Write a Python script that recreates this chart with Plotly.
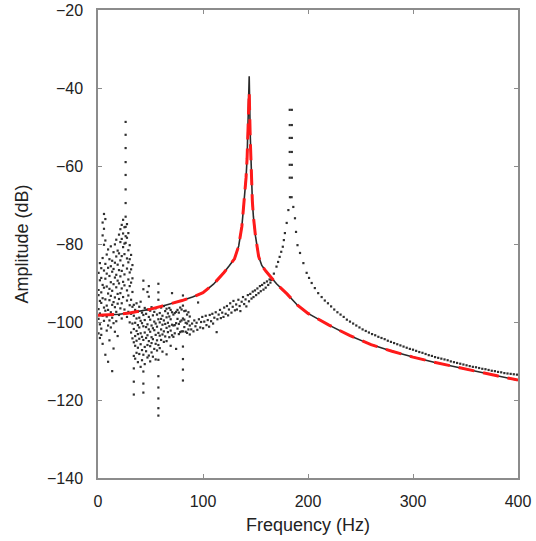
import plotly.graph_objects as go

# ---------------- data ----------------
# smooth model curve (black) and fitted curve (red dashed)
curve_freq = [0, 10, 20, 30, 40, 50, 60, 70, 80, 90, 100, 110, 116, 120, 125, 130, 134, 137, 138,
              140, 141, 142, 143, 144, 145, 146, 147, 148, 150, 153, 156, 160, 165, 170, 180, 190,
              200, 220, 240, 260, 280, 300, 320, 340, 360, 380, 400]
curve_db = [-98.3, -98.2, -98.0, -97.7, -97.2, -96.7, -96.0, -95.3, -94.5, -93.6, -92.5, -90.3, -88.6,
            -87.3, -85.6, -83.8, -80.5, -75.5, -72.5, -67, -63, -58, -48, -37, -52, -63, -69, -73,
            -78, -83.2, -85.5, -87, -88.6, -90.2, -92.8, -95.7, -97.8, -100.8, -103.5, -105.8,
            -107.5, -109, -110.3, -111.5, -112.6, -113.8, -114.9]
fit_db = [-98.3, -98.2, -98.0, -97.7, -97.2, -96.7, -96.0, -95.3, -94.5, -93.6, -92.5, -90.3, -88.6,
          -87.3, -85.6, -83.8, -80.5, -75.5, -72.5, -67, -63, -58, -49, -41, -53, -63, -69, -73,
          -78, -83.2, -85.5, -87, -88.6, -90.2, -92.8, -95.7, -97.8, -100.8, -103.5, -105.8,
          -107.5, -109, -110.3, -111.5, -112.6, -113.8, -114.9]

# measured spectrum: low-frequency cloud (frequency bins, several readings each)
cloud_freq = [0.5, 1.8, 3.1, 4.4, 5.7, 7.0, 8.3, 9.6, 10.9, 12.2, 13.5, 14.8, 16.1, 17.4, 18.7,
              20.0, 21.3, 22.6, 23.9, 25.2, 26.3, 27.6, 28.9, 30.2, 31.5, 32.8, 34.1, 35.4, 36.7,
              38.0, 39.3, 40.6, 41.9, 43.2, 44.5, 45.8, 47.1, 48.4, 49.7, 51.0, 52.3, 53.6, 54.9,
              56.2, 57.5, 58.8, 60.1, 61.4, 62.7, 64.0, 65.3, 66.6, 67.9, 69.2, 70.5, 71.8, 73.1,
              74.4, 75.7, 77.0, 78.3, 79.6, 80.9, 82.2, 83.5, 84.8, 86.1, 87.4]
cloud_db = [
    [-87.4, -91.8, -93.1, -96.7, -99.2, -102.9],
    [-84.9, -89.3, -94.6, -97.8, -100.6, -104.1],
    [-86.2, -88.7, -92.4, -95.1, -101.7, -103.3],
    [-74.5, -77.8, -83.6, -90.5, -93.9, -98.4, -105.6],
    [-72.3, -76.1, -80.2, -86.8, -91.2, -96.3, -99.7],
    [-73.6, -79.1, -85.1, -88.9, -94.2, -97.1, -108.4],
    [-82.7, -87.6, -90.9, -95.8, -98.6, -102.2],
    [-81.4, -86.1, -92.7, -96.9, -100.9, -110.2],
    [-83.9, -88.2, -91.5, -94.4, -99.6, -104.7],
    [-80.6, -85.7, -89.8, -93.3, -97.5, -101.4],
    [-84.3, -87.1, -92.0, -95.6, -98.9, -112.6],
    [-82.1, -86.4, -90.3, -94.9, -100.3, -106.8],
    [-80.1, -84.8, -88.6, -93.7, -96.2, -102.5],
    [-78.9, -83.2, -87.9, -91.1, -97.4, -99.8],
    [-81.7, -85.3, -89.4, -92.8, -95.3, -103.6],
    [-77.6, -82.4, -86.7, -90.1, -94.1, -98.2],
    [-76.2, -79.5, -84.2, -88.3, -92.6, -96.5],
    [-75.1, -78.7, -83.1, -86.9, -91.4, -95.2, -99.1],
    [-73.8, -77.3, -80.8, -85.5, -89.7, -93.6],
    [-75.7, -79.9, -82.6, -87.8, -90.6, -96.8],
    [-48.7, -52.0, -55.4, -59.0, -62.3, -66.0, -69.5, -73.0, -75.6, -78.0, -79.7],
    [-74.9, -78.4, -83.7, -86.3, -91.9, -94.5, -98.7],
    [-77.2, -81.6, -84.7, -89.1, -93.2, -97.4],
    [-80.3, -83.9, -87.3, -90.8, -95.7, -100.1],
    [-82.8, -86.5, -89.9, -94.3, -97.9, -102.7],
    [-85.4, -88.8, -92.3, -96.1, -100.4, -104.2],
    [-95.6, -98.4, -101.8, -105.2, -108.7, -111.9, -115.3, -118.6],
    [-96.9, -100.2, -103.6, -106.1, -109.4],
    [-95.2, -99.1, -102.3, -104.8, -107.9],
    [-97.3, -100.8, -103.1, -106.6, -110.3],
    [-96.1, -98.9, -101.4, -104.3, -108.2],
    [-94.8, -99.7, -102.9, -105.7, -111.5],
    [-97.6, -100.3, -103.8, -107.2, -109.8],
    [-89.4, -91.6, -98.2, -101.1, -104.6, -108.4, -112.7, -115.8, -118.1],
    [-96.4, -99.5, -102.7, -106.4, -110.8],
    [-97.9, -101.3, -104.1, -107.5],
    [-92.3, -96.8, -100.6, -103.4, -105.9, -109.1],
    [-90.8, -93.5, -98.7, -101.9, -104.9, -108.6],
    [-97.1, -99.4, -102.5, -106.2, -110.1],
    [-96.2, -100.9, -103.9, -105.4, -107.8],
    [-98.3, -101.6, -104.4, -108.9],
    [-97.4, -99.9, -102.1, -106.9],
    [-96.5, -100.4, -103.3, -105.6, -109.6],
    [-98.1, -101.2, -104.7, -107.3],
    [-90.2, -92.4, -94.3, -99.3, -102.8, -105.9, -109.7, -113.9, -116.8, -119.6, -122.1, -124.0],
    [-97.7, -100.1, -103.5, -106.7],
    [-96.3, -99.2, -101.9, -104.6],
    [-98.4, -100.7, -103.2, -107.6],
    [-95.9, -99.6, -102.4, -105.1],
    [-97.2, -100.5, -103.7],
    [-96.6, -98.8, -101.5, -104.9, -108.3],
    [-97.8, -100.2, -102.6],
    [-96.4, -98.6, -101.1, -103.9],
    [-96.9, -99.3, -102.2, -106.1],
    [-92.6, -97.5, -100.7, -103.4],
    [-98.1, -100.9, -103.8],
    [-97.7, -100.8, -102.9],
    [-97.4, -100.3, -106.9],
    [-96.9, -99.2, -101.7],
    [-97.6, -100.5, -103.1],
    [-96.3, -99.9, -102.6],
    [-96.8, -99.6, -102.4],
    [-93.2, -95.8, -99.1, -102.4, -106.3, -109.5, -112.2, -115.0],
    [-97.2, -99.4, -101.3],
    [-97.1, -100.2, -102.5],
    [-98.1, -100.4, -102.8],
    [-97.5, -99.8, -101.9],
    [-98.6, -100.9, -103.2],
]

# rising band between the two resonances
band_freq = [88.8, 89.6, 90.9, 91.7, 92.8, 93.9, 94.6, 95.3, 96.1, 97.4, 98.2, 99.3, 100.1, 101.2,
             102.6, 103.3, 104.5, 105.8, 106.4, 107.7, 108.9, 109.6, 110.8, 112.1, 113.0, 113.7,
             114.9, 116.2, 117.0, 118.3, 119.5, 120.2, 121.6, 122.8, 123.9, 124.7, 125.9, 127.1,
             128.3, 129.0, 130.4, 131.6, 132.3, 133.7, 134.9, 135.6, 136.8, 138.1, 139.2, 140.5,
             141.3, 142.7, 143.8, 145.0, 146.2, 147.4, 148.1, 149.5, 150.6, 151.8, 152.9, 154.2,
             155.0, 156.3, 157.6, 158.4, 159.7, 160.9, 162.1, 163.4, 164.2]
band_db = [-101.9, -100.4, -102.4, -99.6, -101.1, -100.2, -102.0, -95.0, -99.3, -101.4, -100.0,
           -98.7, -101.6, -99.9, -98.4, -100.8, -99.5, -101.2, -98.2, -99.8, -97.9, -100.4, -98.9,
           -97.5, -102.6, -99.3, -98.1, -96.9, -99.0, -97.6, -98.7, -96.3, -97.9, -95.9, -98.3,
           -96.8, -95.2, -97.6, -96.1, -94.6, -97.0, -95.5, -96.8, -94.3, -95.9, -97.2, -94.8,
           -93.6, -95.4, -94.2, -96.0, -93.1, -94.7, -92.8, -94.0, -92.2, -93.6, -91.9, -93.1,
           -91.4, -92.6, -90.8, -92.1, -90.5, -91.7, -90.0, -91.2, -89.6, -90.5, -89.1, -89.9]

# second (measured) resonance near 183 Hz and its decaying tail
peak2_freq = [165, 167.5, 170, 171.5, 173, 174.5, 176, 177, 178, 179.7, 181.3,
              182.6, 184.6, 182.6, 184.6, 182.6, 184.6, 182.6, 184.6, 182.6, 184.6, 182.6, 184.6,
              182.8, 184.4,
              186, 187.6, 188.6, 190, 192.4, 195.6, 198.7, 201, 203.5, 206.5, 209.7, 213, 216,
              219, 222, 225, 228, 231, 234, 237, 240, 243, 246, 249, 252, 255, 258, 261, 264,
              267, 270, 273, 276, 279, 282, 285, 288, 291, 294, 297, 300, 303, 306, 309, 312,
              315, 318, 321, 324, 327, 330, 333, 336, 339, 342, 345, 348, 351, 354, 357, 360,
              363, 366, 369, 372, 375, 378, 381, 384, 387, 390, 393, 396, 399]
peak2_db = [-89.2, -87.6, -85.8, -84.6, -83.3, -82, -80.7, -79, -77.2, -74.6, -71.3,
            -45.6, -45.6, -49.5, -49.5, -52.8, -52.8, -56.4, -56.4, -59.7, -59.7, -63, -63,
            -68, -68,
            -70.5, -73.4, -76.9, -80.3, -82.3, -84.9, -87.4, -88.7, -90, -91.3, -92.6, -93.6,
            -94.5, -95.2, -96, -96.8, -97.5, -98.1, -98.7, -99.4, -99.9, -100.4, -100.9, -101.4,
            -101.9, -102.3, -102.7, -103.1, -103.4, -103.8, -104.1, -104.4, -104.8, -105.1,
            -105.4, -105.7, -106, -106.3, -106.6, -106.9, -107.1, -107.4, -107.7, -107.9,
            -108.2, -108.5, -108.7, -109, -109.2, -109.4, -109.6, -109.8, -110.1, -110.3,
            -110.5, -110.7, -110.9, -111.1, -111.3, -111.5, -111.6, -111.8, -112, -112.1,
            -112.3, -112.5, -112.6, -112.8, -112.9, -113.1, -113.2, -113.3, -113.4, -113.5]

# ---------------- build point table ----------------
pts_x, pts_y = [], []
for f, vals in zip(cloud_freq, cloud_db):
    for v in vals:
        pts_x.append(f)
        pts_y.append(v)
pts_x += band_freq + peak2_freq
pts_y += band_db + peak2_db

font_family = "Liberation Sans, Arial, sans-serif"

fig = go.Figure()
fig.add_trace(go.Scatter(
    x=pts_x, y=pts_y, mode="markers",
    marker=dict(symbol="square", size=2.2, color="#303030", line=dict(width=0)),
    hoverinfo="skip", showlegend=False))
fig.add_trace(go.Scatter(
    x=curve_freq, y=curve_db, mode="lines",
    line=dict(color="#2a2a2a", width=1.6), showlegend=False))
fig.add_trace(go.Scatter(
    x=curve_freq, y=fit_db, mode="lines",
    line=dict(color="#ff1a1a", width=3, dash="16px,9px"), showlegend=False))

axis_common = dict(
    showline=True, linecolor="#8c8c8c", linewidth=1.5, mirror="ticks",
    ticks="inside", ticklen=4, tickwidth=1.2, tickcolor="#8c8c8c",
    showgrid=False, zeroline=False, automargin=False,
    tickfont=dict(family=font_family, size=16, color="#222222"),
)
fig.update_xaxes(range=[0, 400], tickvals=[0, 100, 200, 300, 400],
                 title=dict(text="Frequency (Hz)", font=dict(family=font_family, size=18, color="#222222"), standoff=9),
                 ticklabelstandoff=8, **axis_common)
fig.update_yaxes(range=[-140, -20], tickvals=[-140, -120, -100, -80, -60, -40, -20],
                 title=dict(text="Amplitude (dB)", font=dict(family=font_family, size=18, color="#222222"), standoff=14),
                 ticklabelstandoff=10, **axis_common)

fig.update_layout(
    width=536, height=541,
    margin=dict(l=98, r=18, t=10, b=63),
    paper_bgcolor="white", plot_bgcolor="white",
    showlegend=False,
)

fig.write_html("out.html")
